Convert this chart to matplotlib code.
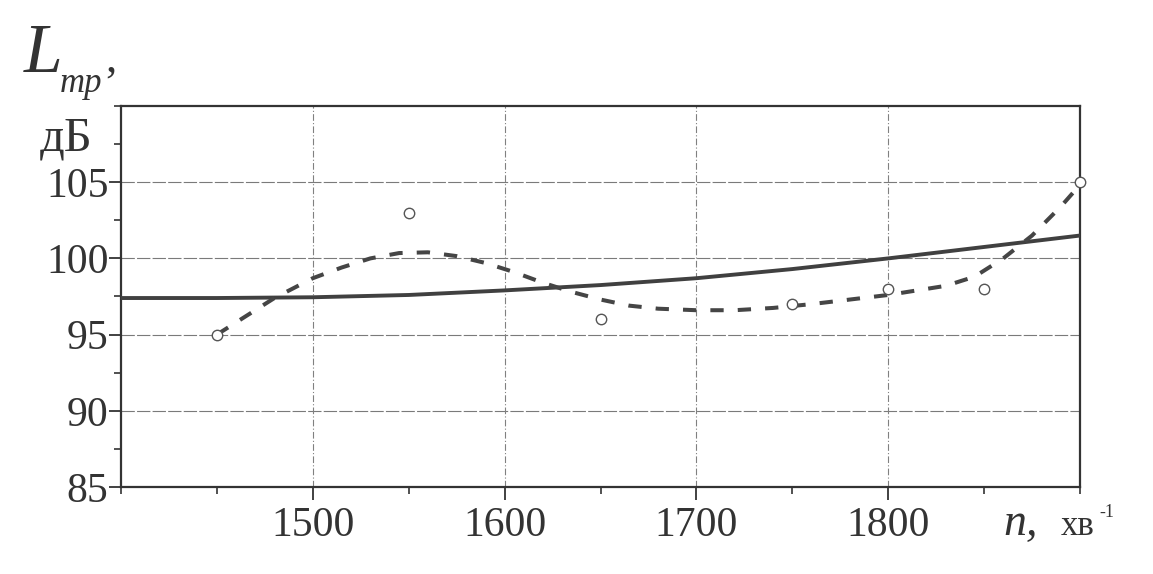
import matplotlib
matplotlib.use("Agg")
import matplotlib.pyplot as plt
from matplotlib.ticker import MultipleLocator

# measured points
n_pts = [1450, 1550, 1650, 1750, 1800, 1850, 1900]
L_pts = [95, 103, 96, 97, 98, 98, 105]

# solid curve
n_solid = [1400, 1450, 1500, 1550, 1600, 1650, 1700, 1750, 1800, 1850, 1900]
L_solid = [97.4, 97.4, 97.45, 97.6, 97.9, 98.25, 98.7, 99.3, 100.0, 100.75, 101.5]

# dashed curve
n_dash = [1450, 1465, 1480, 1500, 1515, 1530, 1545, 1560, 1575, 1590, 1605, 1620,
          1635, 1650, 1665, 1680, 1700, 1720, 1740, 1760, 1780, 1800, 1815, 1830,
          1845, 1860, 1875, 1890, 1897]
L_dash = [95.0, 96.2, 97.4, 98.7, 99.4, 100.0, 100.35, 100.4, 100.15, 99.7, 99.1, 98.4,
          97.8, 97.3, 96.9, 96.7, 96.6, 96.6, 96.75, 97.0, 97.3, 97.6, 97.9, 98.2,
          98.8, 100.0, 101.5, 103.4, 104.4]

x_ticks = [1500, 1600, 1700, 1800]
y_ticks = [85, 90, 95, 100, 105]

W, H = 1153, 574
fig = plt.figure(figsize=(W / 100, H / 100), dpi=100)
fig.patch.set_facecolor("white")
ax = fig.add_axes([121 / W, 1 - 487 / H, (1080 - 121) / W, (487 - 106) / H])

ink = "#333333"
serif = "Liberation Serif"

ax.set_xlim(1400, 1900)
ax.set_ylim(85, 110)
ax.set_xticks(x_ticks)
ax.set_yticks(y_ticks)
ax.xaxis.set_minor_locator(MultipleLocator(50))
ax.yaxis.set_minor_locator(MultipleLocator(2.5))

for v in y_ticks[1:]:
    ax.axhline(v, color="#7a7a7a", lw=0.8, ls=(0, (12, 2)), zorder=1)
for v in x_ticks:
    ax.axvline(v, color="#808080", lw=0.8, ls=(0, (6, 2, 1, 2)), zorder=1)

ax.plot(n_solid, L_solid, color="#404040", lw=2.8, solid_capstyle="butt", zorder=3)
ax.plot(n_dash, L_dash, color="#454545", lw=2.9, ls=(0, (3.3, 3.5)), zorder=3)
ax.plot(n_pts, L_pts, ls="none", marker="o", ms=7.5, mfc="white", mec="#555555",
        mew=1.0, zorder=4, clip_on=False)

for s in ax.spines.values():
    s.set_color(ink)
    s.set_linewidth(1.6)

ax.tick_params(which="major", direction="out", length=9, width=1.3, color=ink,
               labelsize=30, labelcolor=ink)
ax.tick_params(axis="y", which="major", pad=0)
ax.tick_params(axis="x", which="major", pad=5)
ax.tick_params(which="minor", direction="out", length=5, width=1.2, color=ink)
for lab in ax.get_xticklabels() + ax.get_yticklabels():
    lab.set_fontfamily(serif)

def px(x, y):
    return x / W, 1 - y / H

fig.text(*px(24, 72), "L", fontfamily=serif, fontstyle="italic", fontsize=50,
         color=ink, va="baseline", ha="left")
fig.text(*px(60, 92), "mp", fontfamily=serif, fontstyle="italic", fontsize=25,
         color=ink, va="baseline", ha="left")
fig.text(*px(105, 72), ",", fontfamily=serif, fontsize=32,
         color=ink, va="baseline", ha="left")
fig.text(*px(40, 150), "дБ", fontfamily=serif, fontsize=35,
         color=ink, va="baseline", ha="left")

fig.text(*px(1003, 535), "n,", fontfamily=serif, fontstyle="italic", fontsize=33,
         color=ink, va="baseline", ha="left")
fig.text(*px(1061, 535), "хв", fontfamily=serif, fontsize=25,
         color=ink, va="baseline", ha="left")
fig.text(*px(1099, 517), "-1", fontfamily=serif, fontsize=13,
         color=ink, va="baseline", ha="left")

fig.savefig("out.png", dpi=100, facecolor="white")
